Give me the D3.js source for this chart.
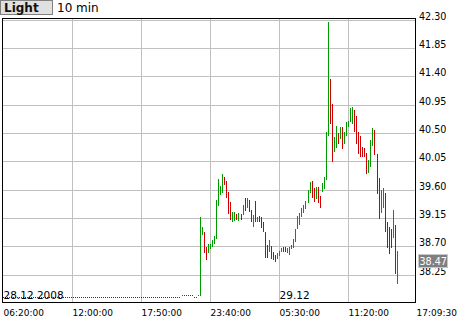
<!DOCTYPE html>
<html>
<head>
<meta charset="utf-8">
<script src="https://cdn.jsdelivr.net/npm/d3@7"></script>
<style>
  body { margin: 0; background: #fff; }
  svg { display: block; }
</style>
</head>
<body>
<div id="chart"></div>
<script>
// price ticks on the right side
const priceTicks = [42.30, 41.85, 41.40, 40.95, 40.50, 40.05, 39.60, 39.15, 38.70, 38.25];

// time ticks, position = bar index (10 min bars starting 28.12 06:20)
const timeTickIdx = [0, 34, 68, 102, 136, 170];
const timeTickLabels = ['06:20:00', '12:00:00', '17:50:00', '23:40:00', '05:30:00', '11:20:00'];
const lastTimeLabel = '17:09:30';
const lastIdx = 203.2;

const dateLabels = ['28.12 2008', '29.12'];
const dateIdx = [0, 136];

// weekend, no trades: flat quote shown as a dotted line
const flatIdx = [0, 87];
const flatPrice = [37.90, 37.90];

// bars from index 88 onwards
const barStart = 88;
const barHigh = [
  37.92, 37.93, 37.93, 37.93, 37.93, 37.93, 37.90, 37.90, 37.92,
  39.17, 39.00, 38.93, 38.68, 38.73, 38.74, 38.80, 38.86, 39.44, 39.77,
  39.66, 39.85, 39.80, 39.73, 39.56, 39.40, 39.25, 39.25, 39.21, 39.22,
  39.21, 39.36, 39.46, 39.46, 39.44, 39.28, 39.19, 39.42, 39.17, 39.18,
  39.16, 39.09, 38.92, 38.72, 38.80, 38.71, 38.60, 38.56, 38.59, 38.63,
  38.67, 38.68, 38.68, 38.67, 38.68, 38.72, 38.82, 38.97, 39.18, 39.23,
  39.30, 39.36, 39.42, 39.60, 39.72, 39.73, 39.62, 39.64, 39.64, 39.50,
  39.71, 39.80, 40.51, 42.26, 41.35, 40.96, 40.43, 40.61, 40.50, 40.59,
  40.59, 40.51, 40.67, 40.69, 40.89, 40.91, 40.86, 40.77, 40.51, 40.45,
  40.27, 40.26, 40.18, 40.07, 40.39, 40.58, 40.55, 40.16, 39.78, 39.59,
  39.62, 39.54, 39.08, 39.00, 38.97, 39.27, 39.04, 38.62
];
const barLow = [
  37.92, 37.93, 37.93, 37.93, 37.93, 37.93, 37.90, 37.90, 37.92,
  37.91, 38.88, 38.59, 38.48, 38.59, 38.65, 38.69, 38.74, 38.81, 39.34,
  39.52, 39.54, 39.67, 39.46, 39.21, 39.12, 39.08, 39.10, 39.12, 39.10,
  39.11, 39.19, 39.26, 39.31, 39.24, 39.09, 39.01, 39.09, 39.09, 39.09,
  38.99, 38.92, 38.51, 38.52, 38.61, 38.50, 38.48, 38.45, 38.50, 38.54,
  38.60, 38.60, 38.60, 38.59, 38.56, 38.65, 38.67, 38.77, 38.98, 39.04,
  39.17, 39.23, 39.29, 39.38, 39.54, 39.46, 39.40, 39.45, 39.39, 39.30,
  39.56, 39.61, 39.75, 40.45, 40.64, 40.04, 40.20, 40.26, 40.32, 40.40,
  40.24, 40.32, 40.45, 40.59, 40.67, 40.64, 40.51, 40.32, 40.16, 40.12,
  40.12, 40.12, 39.85, 39.86, 39.96, 40.29, 40.15, 39.53, 39.13, 39.23,
  39.31, 38.93, 38.67, 38.58, 38.67, 38.83, 38.26, 38.10
];
// 1 = close above open (green), 0 = red
const barUp = [
  1, 0, 0, 0, 0, 0, 0, 0, 1,
  1, 1, 0, 0, 1, 1, 1, 1, 1, 1,
  1, 1, 0, 0, 0, 0, 1, 1, 0, 1,
  0, 1, 0, 1, 0, 0, 1, 0, 1, 0,
  0, 0, 0, 0, 1, 0, 0, 0, 1, 1,
  1, 0, 0, 1, 1, 1, 1, 1, 1, 1,
  1, 1, 1, 1, 1, 0, 0, 1, 0, 0,
  1, 1, 1, 1, 0, 0, 1, 1, 0, 1,
  0, 1, 1, 1, 1, 1, 0, 0, 0, 0,
  0, 0, 0, 1, 1, 1, 0, 0, 0, 1,
  1, 0, 0, 0, 0, 1, 0, 1
];
const lastPrice = 38.47;

const width = 460;
const height = 320;
const frame = { left: 2, top: 18, right: 415, bottom: 302 };

const svg = d3.select('#chart')
  .append('svg')
  .attr('width', width)
  .attr('height', height)
  .style('font-family', 'DejaVu Sans, sans-serif');

const x = d3.scaleLinear().domain([0, lastIdx]).range([3.5, 416]);
const y = d3.scaleLinear().domain([42.30, 38.25]).range([20, 275]);
const row = v => Math.floor(y(v) + 0.01);

// header: period button + interval
svg.append('rect')
  .attr('x', 0.5).attr('y', 0.5)
  .attr('width', 52).attr('height', 14)
  .attr('fill', '#e0e0e0')
  .attr('stroke', '#808080');
svg.append('text')
  .attr('x', 4).attr('y', 12)
  .attr('font-size', 12)
  .attr('font-weight', 'bold')
  .attr('fill', '#111')
  .text('Light');
svg.append('text')
  .attr('x', 57).attr('y', 12)
  .attr('font-size', 12)
  .attr('fill', '#000')
  .text('10 min');

// grid
svg.selectAll('line.hgrid')
  .data(priceTicks)
  .enter()
  .append('line')
  .attr('class', 'hgrid')
  .attr('x1', frame.left).attr('x2', frame.right)
  .attr('y1', d => row(d) + 0.5).attr('y2', d => row(d) + 0.5)
  .attr('stroke', '#c0c0c0');

svg.selectAll('line.vgrid')
  .data(timeTickIdx.slice(1))
  .enter()
  .append('line')
  .attr('class', 'vgrid')
  .attr('x1', d => Math.floor(x(d)) + 0.5).attr('x2', d => Math.floor(x(d)) + 0.5)
  .attr('y1', frame.top).attr('y2', frame.bottom)
  .attr('stroke', '#c0c0c0');

// weekend dotted line
svg.append('path')
  .datum(flatIdx.map((d, i) => [d, flatPrice[i]]))
  .attr('d', d3.line().x(d => Math.floor(x(d[0]))).y(d => row(d[1]) + 0.5))
  .attr('stroke', '#b00000')
  .attr('stroke-dasharray', '1,1')
  .attr('fill', 'none');

// hi-lo bars
const bars = barHigh.map((h, i) => ({ idx: barStart + i, hi: h, lo: barLow[i], up: barUp[i] }));
svg.selectAll('rect.bar')
  .data(bars)
  .enter()
  .append('rect')
  .attr('class', 'bar')
  .attr('x', d => Math.floor(x(d.idx)))
  .attr('y', d => row(d.hi))
  .attr('width', 1)
  .attr('height', d => Math.max(1, row(d.lo) - row(d.hi)))
  .attr('fill', d => d.up ? '#009900' : '#cc0000');

// date labels inside the plot
svg.selectAll('text.date')
  .data(dateLabels)
  .enter()
  .append('text')
  .attr('class', 'date')
  .attr('x', (d, i) => x(dateIdx[i]))
  .attr('y', 299)
  .attr('font-size', 10.5)
  .attr('fill', '#000')
  .text(d => d);

// frame
svg.append('rect')
  .attr('x', frame.left + 0.5).attr('y', frame.top + 0.5)
  .attr('width', frame.right - frame.left).attr('height', frame.bottom - frame.top)
  .attr('fill', 'none')
  .attr('stroke', '#000');

// price labels
svg.selectAll('text.price')
  .data(priceTicks)
  .enter()
  .append('text')
  .attr('class', 'price')
  .attr('x', 419)
  .attr('y', d => row(d))
  .attr('font-size', 9.6)
  .attr('fill', '#000')
  .text(d => d.toFixed(2));

// time labels
svg.selectAll('text.time')
  .data(timeTickLabels.concat([lastTimeLabel]))
  .enter()
  .append('text')
  .attr('class', 'time')
  .attr('x', (d, i) => i < timeTickIdx.length ? x(timeTickIdx[i]) : x(lastIdx) + 0.5)
  .attr('y', 316)
  .attr('font-size', 9)
  .attr('fill', '#000')
  .text(d => d);

// last price marker
const lp = svg.append('g').attr('transform', `translate(418,${Math.round(y(lastPrice)) - 7})`);
lp.append('rect')
  .attr('x', 0.5).attr('y', 0.5)
  .attr('width', 29).attr('height', 13)
  .attr('fill', '#7f7f7f')
  .attr('stroke', '#c8c8c8');
lp.append('text')
  .attr('x', 1.5).attr('y', 11)
  .attr('font-size', 9.6)
  .attr('fill', '#fff')
  .text(lastPrice.toFixed(2));
</script>
</body>
</html>
